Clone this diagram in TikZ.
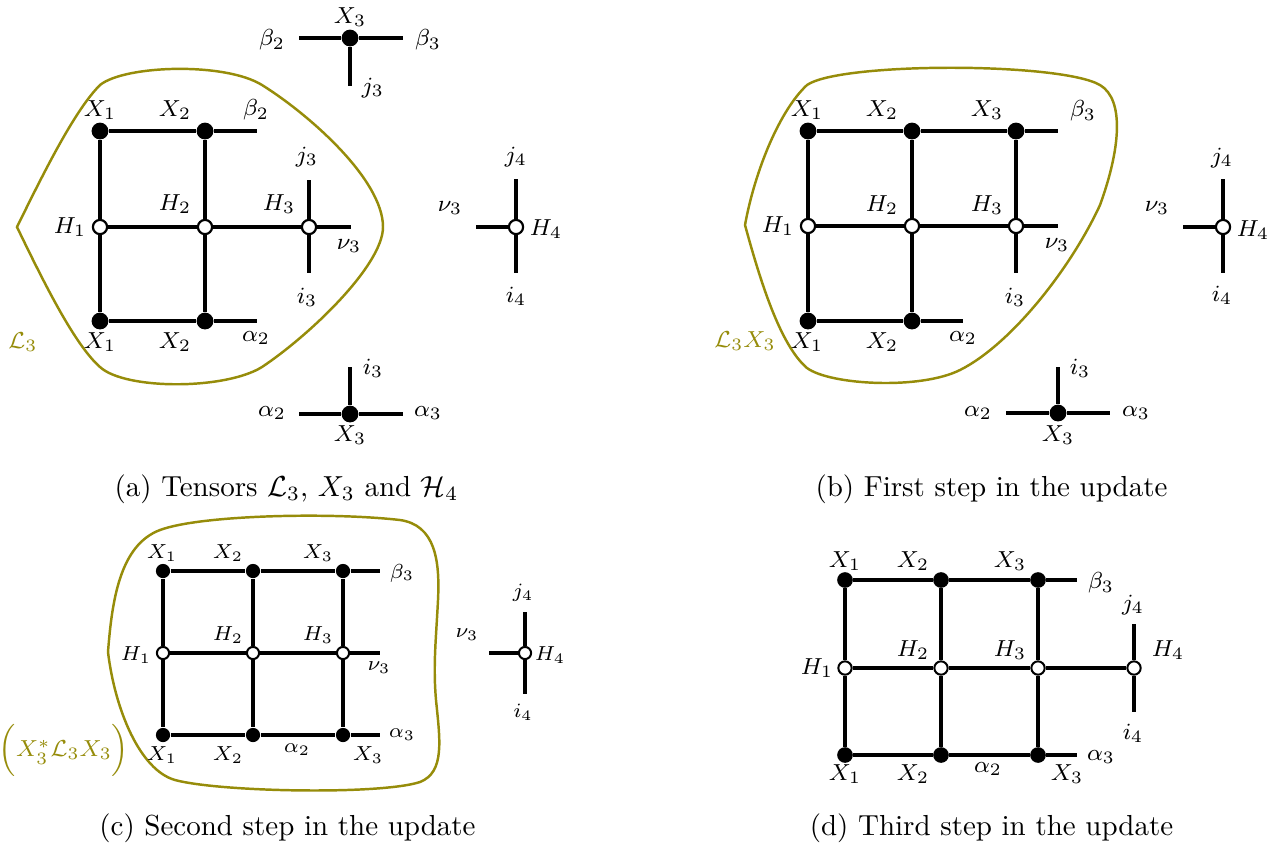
\documentclass[tikz,border=0pt]{standalone}
\definecolor{olivec}{RGB}{150,140,10}
\tikzset{
  wa/.style={line width=1.35pt},
  wc/.style={line width=1.1pt},
  wd/.style={line width=1.2pt},
  xa/.style={circle, fill=black, inner sep=0pt, minimum size=5.8pt},
  ha/.style={circle, draw=black, fill=white, line width=0.75pt, inner sep=0pt, minimum size=4.9pt},
  xc/.style={circle, fill=black, inner sep=0pt, minimum size=4.9pt},
  hc/.style={circle, draw=black, fill=white, line width=0.7pt, inner sep=0pt, minimum size=4.2pt},
  xd/.style={circle, fill=black, inner sep=0pt, minimum size=5.4pt},
  hd/.style={circle, draw=black, fill=white, line width=0.7pt, inner sep=0pt, minimum size=4.6pt},
  la/.style={inner sep=0pt, font=\fontsize{8.5}{10}\selectfont},
  lc/.style={inner sep=0pt, font=\fontsize{7.5}{9}\selectfont},
  ld/.style={inner sep=0pt, font=\fontsize{8}{9.6}\selectfont},
  blob/.style={draw=olivec, line width=0.85pt},
  captext/.style={inner sep=0pt, font=\fontsize{10}{12}\selectfont}
}
\begin{document}
\begin{tikzpicture}[x=0.345pt, y=-0.345pt]
\useasboundingbox (0,0) rectangle (1283,845);

%% ================= panel (a) =================
\draw[blob] (17,227) .. controls (45,170) and (75,110) .. (100,85)
  .. controls (125,65) and (225,62) .. (262,85)
  .. controls (310,115) and (383,180) .. (383,227)
  .. controls (383,265) and (310,335) .. (262,367)
  .. controls (225,390) and (125,390) .. (100,367)
  .. controls (75,345) and (45,285) .. (17,227) -- cycle;
\node[la, text=olivec] (aL) at (23,342) {$\mathcal{L}_3$};

\node[xa] (aX1t) at (100,131) {};
\node[xa] (aX2t) at (205,131) {};
\node[ha] (aH1) at (100,227) {};
\node[ha] (aH2) at (205,227) {};
\node[ha] (aH3) at (309,227) {};
\node[xa] (aX1b) at (100,321) {};
\node[xa] (aX2b) at (205,321) {};
\coordinate (aBt) at (257,131);
\coordinate (aHe) at (351,227);
\coordinate (aJ3) at (309,180);
\coordinate (aI3) at (309,273);
\coordinate (aAb) at (257,321);
\draw[wa] (aX1t) -- (aX2t) -- (aBt);
\draw[wa] (aH1) -- (aH2) -- (aH3) -- (aHe);
\draw[wa] (aX1b) -- (aX2b) -- (aAb);
\draw[wa] (aX1t) -- (aH1) -- (aX1b);
\draw[wa] (aX2t) -- (aH2) -- (aX2b);
\draw[wa] (aJ3) -- (aH3) -- (aI3);

\node[la] (al1) at (100,110) {$X_1$};
\node[la] (al2) at (175,110) {$X_2$};
\node[la] (al3) at (256,110) {$\beta_2$};
\node[la] (al4) at (307,157) {$j_3$};
\node[la] (al5) at (175,204) {$H_2$};
\node[la] (al6) at (279,204) {$H_3$};
\node[la] (al7) at (70,227) {$H_1$};
\node[la] (al8) at (349,246) {$\nu_3$};
\node[la] (al9) at (307,297) {$i_3$};
\node[la] (al10) at (100,342) {$X_1$};
\node[la] (al11) at (175,342) {$X_2$};
\node[la] (al12) at (256,338) {$\alpha_2$};

% top X3
\node[xa] (aT) at (350,38) {};
\coordinate (aTl) at (299,38);
\coordinate (aTr) at (403,38);
\coordinate (aTd) at (350,86);
\draw[wa] (aTl) -- (aT) -- (aTr);
\draw[wa] (aT) -- (aTd);
\node[la] (at1) at (350,17) {$X_3$};
\node[la] (at2) at (272,40) {$\beta_2$};
\node[la] (at3) at (428,40) {$\beta_3$};
\node[la] (at4) at (373,88) {$j_3$};
% bottom X3
\node[xa] (aB) at (350,414) {};
\coordinate (aBl) at (299,414);
\coordinate (aBr) at (403,414);
\coordinate (aBu) at (350,367);
\draw[wa] (aBl) -- (aB) -- (aBr);
\draw[wa] (aB) -- (aBu);
\node[la] (ab1) at (373,368) {$i_3$};
\node[la] (ab2) at (272,413) {$\alpha_2$};
\node[la] (ab3) at (428,413) {$\alpha_3$};
\node[la] (ab4) at (350,435) {$X_3$};
% H4
\node[ha] (aH4) at (516,227) {};
\coordinate (aH4l) at (476,227);
\coordinate (aH4u) at (516,179);
\coordinate (aH4d) at (516,273);
\draw[wa] (aH4l) -- (aH4);
\draw[wa] (aH4u) -- (aH4) -- (aH4d);
\node[la] (ah1) at (450,208) {$\nu_3$};
\node[la] (ah2) at (546,229) {$H_4$};
\node[la] (ah3) at (516,157) {$j_4$};
\node[la] (ah4) at (516,296) {$i_4$};

\node[captext] (capa) at (286.5,489) {(a) Tensors $\mathcal{L}_3$, $X_3$ and $\mathcal{H}_4$};

%% ================= panel (b) =================
\draw[blob] (745,225) .. controls (755,170) and (780,110) .. (807,85)
  .. controls (840,62) and (1060,62) .. (1100,85)
  .. controls (1125,100) and (1120,150) .. (1100,205)
  .. controls (1070,270) and (1010,345) .. (960,370)
  .. controls (920,390) and (830,385) .. (807,368)
  .. controls (780,345) and (760,280) .. (745,225) -- cycle;
\node[la, text=olivec] (bL) at (745,341) {$\mathcal{L}_3X_3$};

\node[xa] (bX1t) at (808,131) {};
\node[xa] (bX2t) at (912,131) {};
\node[xa] (bX3t) at (1016,131) {};
\node[ha] (bH1) at (808,226) {};
\node[ha] (bH2) at (912,226) {};
\node[ha] (bH3) at (1016,226) {};
\node[xa] (bX1b) at (808,321) {};
\node[xa] (bX2b) at (912,321) {};
\coordinate (bBt) at (1058,131);
\coordinate (bHe) at (1058,226);
\coordinate (bI3) at (1016,273);
\coordinate (bAb) at (963,321);
\draw[wa] (bX1t) -- (bX2t) -- (bX3t) -- (bBt);
\draw[wa] (bH1) -- (bH2) -- (bH3) -- (bHe);
\draw[wa] (bX1b) -- (bX2b) -- (bAb);
\draw[wa] (bX1t) -- (bH1) -- (bX1b);
\draw[wa] (bX2t) -- (bH2) -- (bX2b);
\draw[wa] (bX3t) -- (bH3) -- (bI3);

\node[la] (bl1) at (807,110) {$X_1$};
\node[la] (bl2) at (882,110) {$X_2$};
\node[la] (bl3) at (987,110) {$X_3$};
\node[la] (bl4) at (1083,111) {$\beta_3$};
\node[la] (bl5) at (882,205) {$H_2$};
\node[la] (bl6) at (987,205) {$H_3$};
\node[la] (bl7) at (778,226) {$H_1$};
\node[la] (bl8) at (1057,245) {$\nu_3$};
\node[la] (bl9) at (1015,297) {$i_3$};
\node[la] (bl10) at (807,342) {$X_1$};
\node[la] (bl11) at (882,342) {$X_2$};
\node[la] (bl12) at (963,338) {$\alpha_2$};

\node[ha] (bH4) at (1223,227) {};
\coordinate (bH4l) at (1183,227);
\coordinate (bH4u) at (1223,179);
\coordinate (bH4d) at (1223,273);
\draw[wa] (bH4l) -- (bH4);
\draw[wa] (bH4u) -- (bH4) -- (bH4d);
\node[la] (bh1) at (1157,208) {$\nu_3$};
\node[la] (bh2) at (1253,230) {$H_4$};
\node[la] (bh3) at (1222,158) {$j_4$};
\node[la] (bh4) at (1222,295) {$i_4$};

\node[xa] (bB) at (1058,413) {};
\coordinate (bBl) at (1006,413);
\coordinate (bBr) at (1110,413);
\coordinate (bBu) at (1058,367);
\draw[wa] (bBl) -- (bB) -- (bBr);
\draw[wa] (bB) -- (bBu);
\node[la] (bb1) at (1080,368) {$i_3$};
\node[la] (bb2) at (978,413) {$\alpha_2$};
\node[la] (bb3) at (1136,413) {$\alpha_3$};
\node[la] (bb4) at (1058,435) {$X_3$};

\node[captext] (capb) at (991.5,489) {(b) First step in the update};

%% ================= panel (c) =================
\draw[blob] (108,652) .. controls (112,600) and (120,545) .. (160,530)
  .. controls (200,515) and (330,512) .. (400,520)
  .. controls (435,525) and (440,560) .. (438,600)
  .. controls (436,640) and (433,665) .. (436,700)
  .. controls (440,740) and (445,772) .. (420,782)
  .. controls (380,795) and (220,792) .. (175,780)
  .. controls (140,770) and (115,710) .. (108,652) -- cycle;
\node[lc, text=olivec, font=\fontsize{8}{9.6}\selectfont] (cL) at (64,750) {$\Bigl(X_3^*\mathcal{L}_3X_3\Bigr)$};

\node[xc] (cX1t) at (163,571) {};
\node[xc] (cX2t) at (253,571) {};
\node[xc] (cX3t) at (343,571) {};
\node[hc] (cH1) at (163,653) {};
\node[hc] (cH2) at (253,653) {};
\node[hc] (cH3) at (343,653) {};
\node[xc] (cX1b) at (163,735) {};
\node[xc] (cX2b) at (253,735) {};
\node[xc] (cX3b) at (343,735) {};
\coordinate (cBt) at (380,571);
\coordinate (cHe) at (380,653);
\coordinate (cAb) at (380,735);
\draw[wc] (cX1t) -- (cX2t) -- (cX3t) -- (cBt);
\draw[wc] (cH1) -- (cH2) -- (cH3) -- (cHe);
\draw[wc] (cX1b) -- (cX2b) -- (cX3b) -- (cAb);
\draw[wc] (cX1t) -- (cH1) -- (cX1b);
\draw[wc] (cX2t) -- (cH2) -- (cX2b);
\draw[wc] (cX3t) -- (cH3) -- (cX3b);

\node[lc] (cl1) at (162,553) {$X_1$};
\node[lc] (cl2) at (228,553) {$X_2$};
\node[lc] (cl3) at (318,553) {$X_3$};
\node[lc] (cl4) at (402,573) {$\beta_3$};
\node[lc] (cl5) at (228,635) {$H_2$};
\node[lc] (cl6) at (318,635) {$H_3$};
\node[lc] (cl7) at (136,655) {$H_1$};
\node[lc] (cl8) at (379,668) {$\nu_3$};
\node[lc] (cl9) at (402,735) {$\alpha_3$};
\node[lc] (cl10) at (162,755) {$X_1$};
\node[lc] (cl11) at (228,755) {$X_2$};
\node[lc] (cl12) at (297,750) {$\alpha_2$};
\node[lc] (cl13) at (368,755) {$X_3$};

\node[hc] (cH4) at (525,653) {};
\coordinate (cH4l) at (489,653);
\coordinate (cH4u) at (525,612);
\coordinate (cH4d) at (525,694);
\draw[wc] (cH4l) -- (cH4);
\draw[wc] (cH4u) -- (cH4) -- (cH4d);
\node[lc] (ch1) at (467,635) {$\nu_3$};
\node[lc] (ch2) at (550,655) {$H_4$};
\node[lc] (ch3) at (523,593) {$j_4$};
\node[lc] (ch4) at (523,712) {$i_4$};

\node[captext] (capc) at (287.5,828) {(c) Second step in the update};

%% ================= panel (d) =================
\node[xd] (dX1t) at (845,580) {};
\node[xd] (dX2t) at (941,580) {};
\node[xd] (dX3t) at (1038,580) {};
\node[hd] (dH1) at (845,668) {};
\node[hd] (dH2) at (941,668) {};
\node[hd] (dH3) at (1038,668) {};
\node[hd] (dH4) at (1134,668) {};
\node[xd] (dX1b) at (845,755) {};
\node[xd] (dX2b) at (941,755) {};
\node[xd] (dX3b) at (1038,755) {};
\coordinate (dBt) at (1077,580);
\coordinate (dAb) at (1077,755);
\coordinate (dH4u) at (1134,624);
\coordinate (dH4d) at (1134,712);
\draw[wd] (dX1t) -- (dX2t) -- (dX3t) -- (dBt);
\draw[wd] (dH1) -- (dH2) -- (dH3) -- (dH4);
\draw[wd] (dX1b) -- (dX2b) -- (dX3b) -- (dAb);
\draw[wd] (dX1t) -- (dH1) -- (dX1b);
\draw[wd] (dX2t) -- (dH2) -- (dX2b);
\draw[wd] (dX3t) -- (dH3) -- (dX3b);
\draw[wd] (dH4u) -- (dH4) -- (dH4d);

\node[ld] (dl1) at (845,561) {$X_1$};
\node[ld] (dl2) at (913,561) {$X_2$};
\node[ld] (dl3) at (1010,561) {$X_3$};
\node[ld] (dl4) at (1101,583) {$\beta_3$};
\node[ld] (dl5) at (1133,605) {$j_4$};
\node[ld] (dl6) at (913,650) {$H_2$};
\node[ld] (dl7) at (1010,650) {$H_3$};
\node[ld] (dl8) at (1168,650) {$H_4$};
\node[ld] (dl9) at (817,668) {$H_1$};
\node[ld] (dl10) at (1133,733) {$i_4$};
\node[ld] (dl11) at (1101,757) {$\alpha_3$};
\node[ld] (dl12) at (845,774) {$X_1$};
\node[ld] (dl13) at (913,774) {$X_2$};
\node[ld] (dl14) at (988,769) {$\alpha_2$};
\node[ld] (dl15) at (1067,774) {$X_3$};

\node[captext] (capd) at (991.5,828) {(d) Third step in the update};
\end{tikzpicture}
\end{document}
